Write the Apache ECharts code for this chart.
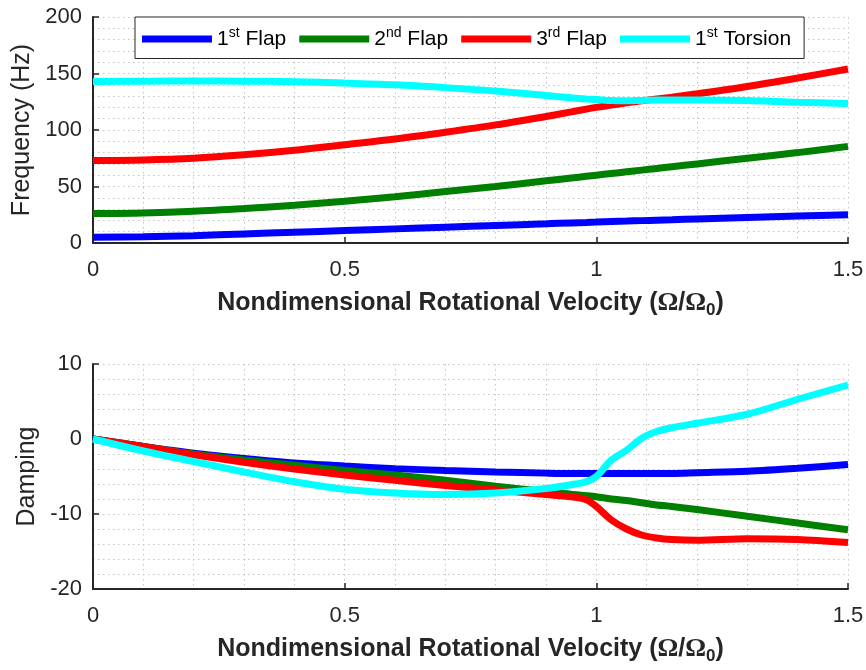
<!DOCTYPE html>
<html><head><meta charset="utf-8">
<script src="https://cdn.jsdelivr.net/npm/echarts@6/dist/echarts.min.js"></script>
<style>html,body{margin:0;padding:0;background:#fff}#c{width:866px;height:670px}</style>
</head><body><div id="c"></div>
<script>
// Shared x grid (nondimensional rotational velocity)
const xs = [0, 0.1, 0.2, 0.3, 0.4, 0.5, 0.6, 0.7, 0.8, 0.9, 0.95, 0.98, 1.0, 1.03, 1.06, 1.09, 1.12, 1.15, 1.2, 1.3, 1.4, 1.5];

// Frequency (Hz)
const freqFlap1   = [5, 5.5, 6.5, 8, 9.5, 11, 12.5, 14, 15.5, 17, 17.8, 18.2, 18.5, 19, 19.4, 19.8, 20.2, 20.6, 21.3, 22.6, 23.8, 25];
const freqFlap2   = [26, 26.5, 28, 30.5, 33.5, 37, 41, 45.5, 50, 55, 57.5, 59, 60, 61.5, 63, 64.5, 66, 67.5, 70, 75, 80, 85.5];
const freqFlap3   = [73, 73.5, 75, 78, 82, 87, 92, 98, 104.5, 112, 116, 118.5, 120, 122, 124, 125.8, 127.5, 129, 132, 138.5, 146, 154];
const freqTorsion = [143, 143.2, 143.3, 143.2, 142.8, 141.5, 140, 137.5, 134.5, 130.5, 128.5, 127.5, 127, 126, 125.8, 126.2, 126.5, 126.5, 126.5, 126, 124.5, 123.5];

// Damping
const dampFlap1   = [0, -1, -1.9, -2.6, -3.2, -3.6, -3.95, -4.2, -4.4, -4.55, -4.6, -4.6, -4.6, -4.6, -4.6, -4.6, -4.6, -4.6, -4.5, -4.3, -3.9, -3.4];
const dampFlap2   = [0, -1, -2, -2.8, -3.5, -4.2, -4.8, -5.5, -6.3, -7, -7.35, -7.55, -7.7, -8, -8.2, -8.5, -8.8, -9, -9.4, -10.3, -11.2, -12.1];
const dampFlap3   = [0, -1, -2.1, -3.1, -4, -4.8, -5.5, -6.2, -6.8, -7.4, -7.7, -8.1, -9, -10.8, -12, -12.8, -13.2, -13.4, -13.5, -13.3, -13.4, -13.8];
const dampTorsion = [0, -1.6, -3.0, -4.4, -5.7, -6.7, -7.2, -7.4, -7.2, -6.6, -6.1, -5.7, -5.0, -2.8, -1.5, 0.1, 1.0, 1.5, 2.1, 3.3, 5.3, 7.2];

const names = ['1st Flap', '2nd Flap', '3rd Flap', '1st Torsion'];
const colors = ['#0000FF', '#008000', '#FF0000', '#00FFFF'];
const xTicks = { min: 0, max: 1.5, interval: 0.5 };
const freqTicks = { min: 0, max: 200, interval: 50 };
const dampTicks = { min: -20, max: 10, interval: 10 };

const FONT = 'Liberation Sans';
const AX = '#262626';
const TXT = '#262626';
const GRIDLINE = { color: '#c4c4c4', type: [1.5, 3.5], width: 1 };
const pairs = (ys) => xs.map((x, i) => [x, ys[i]]);

function xAxis(gi) {
  return {
    type: 'value', gridIndex: gi, min: xTicks.min, max: xTicks.max, interval: xTicks.interval,
    name: 'Nondimensional Rotational Velocity ({om|Ω}/{om|Ω}{sub|0})',
    nameLocation: 'middle', nameGap: 44,
    nameTextStyle: {
      fontFamily: FONT, fontSize: 25, fontWeight: 'bold', color: TXT,
      rich: {
        om: { fontFamily: 'Liberation Serif', fontSize: 26, fontWeight: 'bold', color: TXT },
        sub: { fontFamily: FONT, fontSize: 17, fontWeight: 'bold', color: TXT, verticalAlign: 'bottom', padding: [15, 0, 0, 0] }
      }
    },
    axisLine: { show: true, onZero: false, lineStyle: { color: AX, width: 2 } },
    axisTick: { show: true, inside: true, length: 6, lineStyle: { color: AX, width: 1.5 } },
    axisLabel: { fontFamily: FONT, fontSize: 22, color: TXT, margin: 16 },
    splitLine: { show: true, lineStyle: GRIDLINE },
    minorTick: { show: false, splitNumber: 5 },
    minorSplitLine: { show: true, lineStyle: GRIDLINE }
  };
}
function yAxis(gi, t, name, gap) {
  return {
    type: 'value', gridIndex: gi, min: t.min, max: t.max, interval: t.interval,
    name: name, nameLocation: 'middle', nameGap: gap, nameRotate: 90,
    nameTextStyle: { fontFamily: FONT, fontSize: 25, color: TXT },
    axisLine: { show: true, onZero: false, lineStyle: { color: AX, width: 2 } },
    axisTick: { show: true, inside: true, length: 6, lineStyle: { color: AX, width: 1.5 } },
    axisLabel: { fontFamily: FONT, fontSize: 22, color: TXT, margin: 11 },
    splitLine: { show: true, lineStyle: GRIDLINE },
    minorTick: { show: false, splitNumber: 5 },
    minorSplitLine: { show: true, lineStyle: GRIDLINE }
  };
}

const freqData = [freqFlap1, freqFlap2, freqFlap3, freqTorsion];
const dampData = [dampFlap1, dampFlap2, dampFlap3, dampTorsion];
const series = [];
freqData.forEach((d, i) => series.push({
  name: names[i], type: 'line', xAxisIndex: 0, yAxisIndex: 0, data: pairs(d),
  showSymbol: false, smooth: 0.3, lineStyle: { color: colors[i], width: 7 }, itemStyle: { color: colors[i] }
}));
dampData.forEach((d, i) => series.push({
  name: names[i], type: 'line', xAxisIndex: 1, yAxisIndex: 1, data: pairs(d),
  showSymbol: false, smooth: 0.3, lineStyle: { color: colors[i], width: 7 }, itemStyle: { color: colors[i] }
}));

const chart = echarts.init(document.getElementById('c'), null, { renderer: 'canvas' });
chart.setOption({
  animation: false,
  backgroundColor: '#fff',
  legend: {
    data: names, left: 135, top: 17, orient: 'horizontal',
    icon: 'rect', itemWidth: 70, itemHeight: 7, itemGap: 13,
    padding: [9, 13, 9, 7],
    borderColor: AX, borderWidth: 1, backgroundColor: '#fff',
    formatter: (n) => n.replace(/^(\d)(st|nd|rd)/, '$1{sup|$2}'),
    textStyle: {
      fontFamily: FONT, fontSize: 21, color: '#000',
      rich: { sup: { fontFamily: FONT, fontSize: 14, color: '#000', verticalAlign: 'top', padding: [0, 0, 12, 0] } }
    }
  },
  grid: [
    { left: 93, right: 18, top: 17, height: 226, outerBoundsMode: 'none', containLabel: false },
    { left: 93, right: 18, top: 364, height: 225, outerBoundsMode: 'none', containLabel: false }
  ],
  xAxis: [xAxis(0), xAxis(1)],
  yAxis: [yAxis(0, freqTicks, 'Frequency (Hz)', 57), yAxis(1, dampTicks, 'Damping', 52)],
  series: series
});
</script></body></html>
